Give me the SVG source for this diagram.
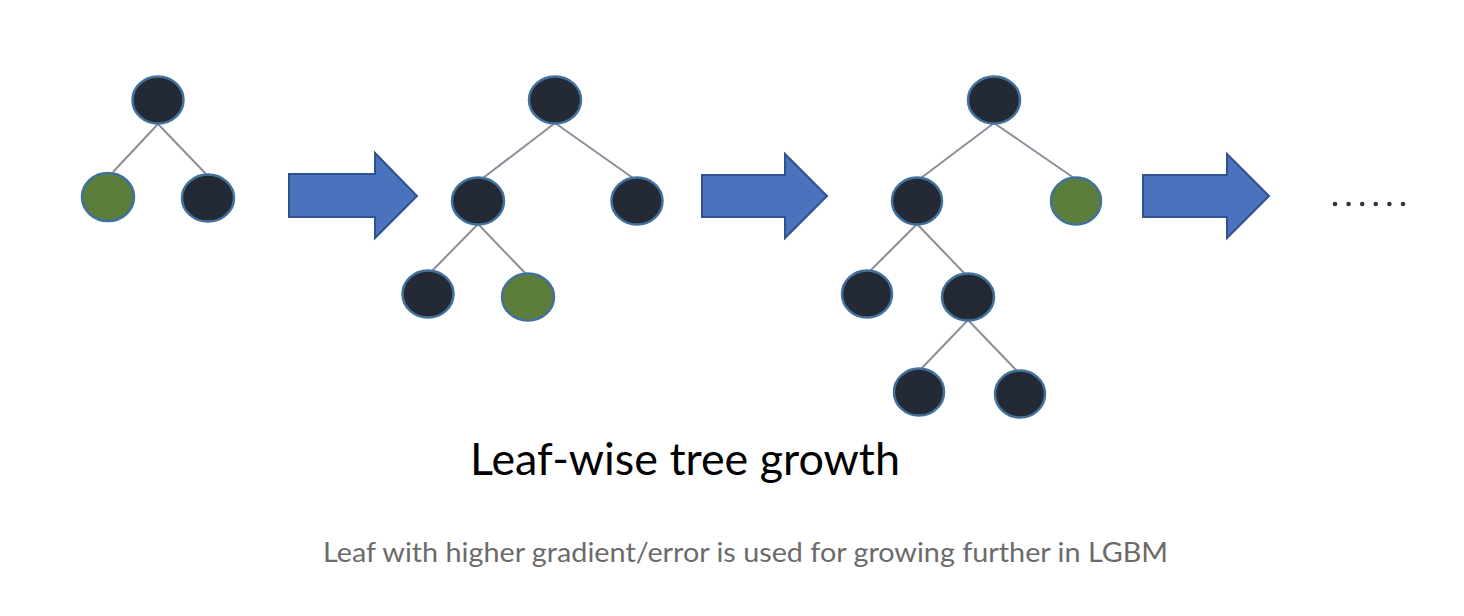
<svg xmlns="http://www.w3.org/2000/svg" width="1464" height="616" viewBox="0 0 1464 616">
<style>
.n{fill:#232a35;stroke:#41719c;stroke-width:2.5}
.g{fill:#5b7e3b;stroke:#41719c;stroke-width:2.5}
.e{stroke:#8a8f99;stroke-width:2;fill:none}
.a{fill:#4a72bd;stroke:#2f528f;stroke-width:2}
.d{fill:#2f3542}
.t{font-family:Lato,"Open Sans",sans-serif}
</style>
<rect width="1464" height="616" fill="#ffffff"/>
<g id="connectors">
<line class="e" x1="158" y1="124" x2="113" y2="172"/>
<line class="e" x1="158" y1="124" x2="206" y2="174"/>
<line class="e" x1="555" y1="123" x2="483" y2="178"/>
<line class="e" x1="555" y1="123" x2="633" y2="178"/>
<line class="e" x1="478" y1="224" x2="431" y2="272"/>
<line class="e" x1="478" y1="224" x2="526" y2="274"/>
<line class="e" x1="994" y1="123" x2="921" y2="178"/>
<line class="e" x1="994" y1="123" x2="1074" y2="178"/>
<line class="e" x1="917" y1="224" x2="870" y2="271"/>
<line class="e" x1="917" y1="224" x2="965" y2="274"/>
<line class="e" x1="968" y1="320" x2="921" y2="369"/>
<line class="e" x1="968" y1="320" x2="1017" y2="371"/>
</g>
<g id="tree1">
<ellipse id="t1-root" class="n" cx="158" cy="100" rx="25.5" ry="23.5"/>
<ellipse id="t1-l" class="g" cx="108" cy="197" rx="26" ry="24"/>
<ellipse id="t1-r" class="n" cx="208" cy="198" rx="26" ry="23.5"/>
</g>
<g id="arrow1"><polygon class="a" points="289,174 375,174 375,153 417,196 375,238 375,217 289,217"/></g>
<g id="tree2">
<ellipse id="t2-root" class="n" cx="555" cy="100" rx="26" ry="23.5"/>
<ellipse id="t2-l" class="n" cx="478" cy="201" rx="26" ry="23.5"/>
<ellipse id="t2-r" class="n" cx="637" cy="201" rx="25.5" ry="23.5"/>
<ellipse id="t2-ll" class="n" cx="428" cy="294" rx="25.5" ry="23.5"/>
<ellipse id="t2-lr" class="g" cx="528" cy="297" rx="26" ry="23.5"/>
</g>
<g id="arrow2"><polygon class="a" points="702,175 785,175 785,154 827,196 785,238 785,217 702,217"/></g>
<g id="tree3">
<ellipse id="t3-root" class="n" cx="994" cy="100" rx="26" ry="23.5"/>
<ellipse id="t3-l" class="n" cx="917" cy="201" rx="25" ry="23.5"/>
<ellipse id="t3-r" class="g" cx="1076" cy="201" rx="25" ry="23.5"/>
<ellipse id="t3-ll" class="n" cx="867" cy="294" rx="25" ry="23.5"/>
<ellipse id="t3-lr" class="n" cx="968" cy="297" rx="26" ry="23.5"/>
<ellipse id="t3-lrl" class="n" cx="919" cy="392" rx="25" ry="23.5"/>
<ellipse id="t3-lrr" class="n" cx="1020" cy="394" rx="25" ry="23.5"/>
</g>
<g id="arrow3"><polygon class="a" points="1143,175 1227,175 1227,154 1269,196 1227,238 1227,217 1143,217"/></g>
<g id="dots">
<circle class="d" cx="1335" cy="204" r="2.3"/>
<circle class="d" cx="1348.6" cy="204" r="2.3"/>
<circle class="d" cx="1362.2" cy="204" r="2.3"/>
<circle class="d" cx="1375.8" cy="204" r="2.3"/>
<circle class="d" cx="1389.4" cy="204" r="2.3"/>
<circle class="d" cx="1403" cy="204" r="2.3"/>
</g>
<text class="t" x="470" y="475" font-size="44" fill="#000000" textLength="430" lengthAdjust="spacingAndGlyphs">Leaf-wise tree growth</text>
<text class="t" x="323" y="562" font-size="27" fill="#6b6b6b" textLength="845" lengthAdjust="spacingAndGlyphs">Leaf with higher gradient/error is used for growing further in LGBM</text>
</svg>
